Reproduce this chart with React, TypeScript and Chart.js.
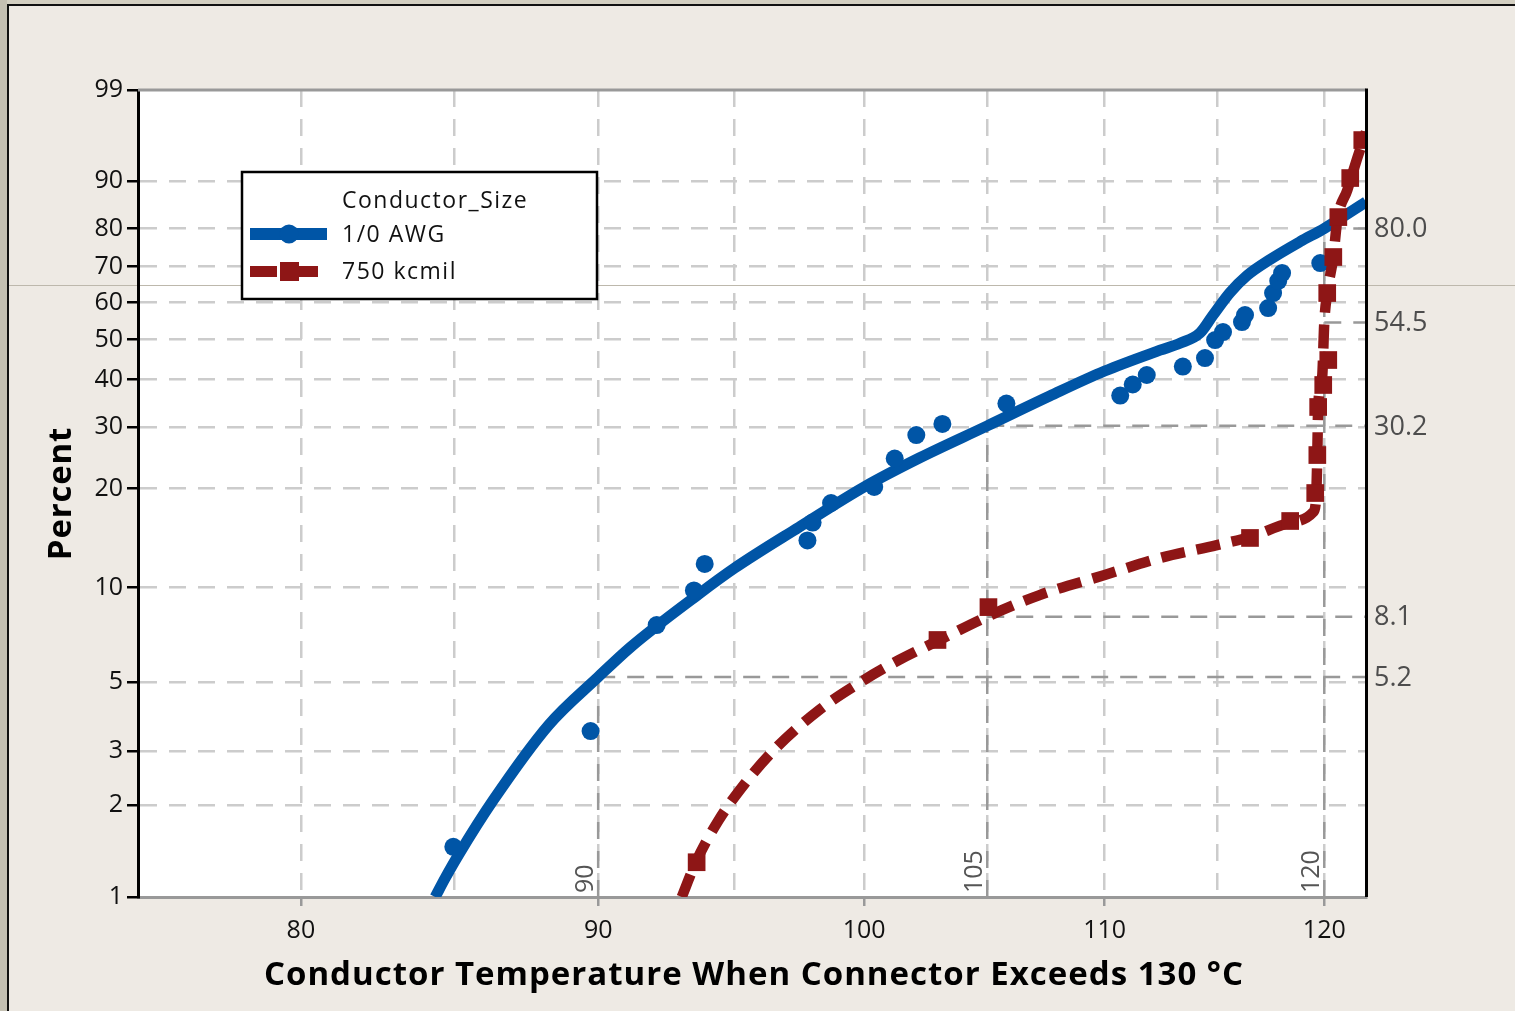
import React, { useEffect, useRef } from 'react';
import { Chart, registerables } from 'chart.js';

Chart.register(...registerables);

// ---------- data ----------
const seriesNames = ['1/0 AWG', '750 kcmil'];
const legendTitle = 'Conductor_Size';
const xTitle = 'Conductor Temperature When Connector Exceeds 130 °C';
const yTitle = 'Percent';

const xGridTemps = [80, 85, 90, 95, 100, 105, 110, 115, 120];
const xLabelTemps = [80, 90, 100, 110, 120];
const yTickPercents = [1, 2, 3, 5, 10, 20, 30, 40, 50, 60, 70, 80, 90, 99];
const xMinTemp = 75;
const xMaxTemp = 122;

// 1/0 AWG observations
const awgTemps = [84.98, 89.73, 92.11, 93.48, 93.88, 97.78, 97.98, 98.7, 100.4, 101.22, 102.09, 103.15, 105.8, 110.68, 111.23, 111.85, 113.46, 114.46, 114.92, 115.28, 116.15, 116.29, 117.36, 117.59, 117.83, 118.01, 119.81];
const awgPercents = [1.46, 3.48, 7.62, 9.79, 11.84, 13.98, 15.85, 18.14, 20.23, 24.47, 28.49, 30.56, 34.69, 36.41, 38.87, 41.08, 43.12, 45.22, 49.84, 51.96, 54.66, 56.58, 58.51, 62.68, 66.04, 68.25, 71.0];

// 1/0 AWG fitted curve
const awgFitTemps = [84.37, 84.71, 85.15, 86.34, 88.25, 90, 91.17, 93.66, 95, 97.46, 100, 102.21, 105, 107.63, 110, 112.44, 113.33, 114.23, 114.82, 115.6, 116.39, 117.46, 118.86, 120, 122];
const awgFitPercents = [1.0, 1.155, 1.372, 2.078, 3.64, 5.2, 6.49, 9.54, 11.5, 15.36, 20.23, 24.55, 30.2, 36.3, 42.03, 47.2, 49.0, 51.69, 56.5, 62.8, 67.6, 72.0, 76.7, 80.0, 86.02];

// 750 kcmil observations
const kcmilTemps = [93.58, 102.95, 105.05, 116.52, 118.39, 119.57, 119.67, 119.71, 119.95, 120.19, 120.14, 120.43, 120.67, 121.24, 121.82];
const kcmilPercents = [1.3, 6.83, 8.68, 14.23, 16.02, 19.42, 25.03, 33.96, 38.76, 44.72, 62.68, 72.63, 82.7, 90.56, 95.71];

// 750 kcmil fitted curve
const kcmilFitTemps = [93.03, 93.55, 94.41, 95.35, 96.49, 98.23, 100, 101.4, 103.03, 105, 107.2, 110, 112.43, 115, 116.52, 118.53, 119.48, 119.62, 119.67, 119.71, 119.9, 120, 120.14, 120.43, 120.62, 121.1, 121.58, 122];
const kcmilFitPercents = [1.0, 1.3, 1.79, 2.33, 3.02, 4.07, 5.09, 5.9, 6.83, 8.1, 9.47, 10.94, 12.35, 13.54, 14.33, 15.91, 17.05, 19.16, 25.37, 33.96, 40.6, 54.5, 62.68, 72.63, 82.03, 88.41, 93.59, 96.48];

// reference lines
const refTemps = [90, 105, 120];
const refAwg = [5.2, 30.2, 80.0];
const refKcmil: (number | null)[] = [null, 8.1, 54.5];

// ---------- transforms (log x, Weibull y) ----------
const tx = (t: number) => Math.log(t);
const ty = (p: number) => Math.log(-Math.log(1 - p / 100));
const pts = (ts: number[], ps: number[]) => ts.map((t, i) => ({ x: tx(t), y: ty(ps[i]) }));

const BLUE = '#0055A6';
const RED = '#8E1616';
const BEIGE = '#EEEAE4';
const FONT = '"Open Sans", "Noto Sans", sans-serif';

const decorPlugin = {
  id: 'decor',
  beforeDraw(chart: any) {
    const { ctx, chartArea: ca, width, height } = chart;
    ctx.save();
    ctx.fillStyle = BEIGE;
    ctx.fillRect(0, 0, width, height);
    ctx.fillStyle = '#D3CFC1';
    ctx.fillRect(0, 0, width, 4);
    ctx.fillStyle = '#C4C0B2';
    ctx.fillRect(0, 0, 7, height);
    ctx.fillStyle = '#111';
    ctx.fillRect(7, 4, width - 7, 2);
    ctx.fillRect(7, 4, 2, height - 4);
    ctx.fillStyle = '#FFFFFF';
    ctx.fillRect(ca.left, ca.top, ca.right - ca.left, ca.bottom - ca.top);
    ctx.fillStyle = '#BDB8AC';
    ctx.fillRect(9, 285, width - 9, 1);
    ctx.restore();
  },
  beforeDatasetsDraw(chart: any) {
    const { ctx, chartArea: ca, scales } = chart;
    const xs = scales.x;
    const ys = scales.y;
    ctx.save();
    ctx.strokeStyle = '#999999';
    ctx.lineWidth = 2.5;
    ctx.setLineDash([17, 12]);
    refTemps.forEach((t, i) => {
      const px = xs.getPixelForValue(tx(t));
      const vals = [refAwg[i], refKcmil[i]].filter((v) => v != null) as number[];
      const topVal = Math.max(...vals);
      ctx.beginPath();
      ctx.moveTo(px, ca.bottom);
      ctx.lineTo(px, ys.getPixelForValue(ty(topVal)));
      ctx.stroke();
      vals.forEach((v) => {
        const py = ys.getPixelForValue(ty(v));
        ctx.beginPath();
        ctx.moveTo(px, py);
        ctx.lineTo(ca.right, py);
        ctx.stroke();
      });
    });
    ctx.restore();
  },
  afterDatasetsDraw(chart: any) {
    const { ctx, chartArea: ca } = chart;
    ctx.save();
    ctx.fillStyle = '#999999';
    ctx.fillRect(ca.left, ca.top - 1.5, ca.right - ca.left, 3);
    ctx.fillStyle = '#000000';
    ctx.fillRect(ca.right - 1, ca.top - 1.5, 3, ca.bottom - ca.top + 1.5);
    ctx.restore();
  },
  afterDraw(chart: any) {
    const { ctx, chartArea: ca, scales } = chart;
    const xs = scales.x;
    const ys = scales.y;
    ctx.save();
    // axis titles
    ctx.fillStyle = '#000000';
    ctx.font = `bold 33px ${FONT}`;
    (ctx as any).letterSpacing = '1px';
    ctx.textAlign = 'center';
    ctx.textBaseline = 'middle';
    ctx.fillText(xTitle, 754, 976);
    (ctx as any).letterSpacing = '0.8px';
    ctx.save();
    ctx.translate(62, (ca.top + ca.bottom) / 2);
    ctx.rotate(-Math.PI / 2);
    ctx.fillText(yTitle, 0, 0);
    ctx.restore();
    (ctx as any).letterSpacing = '0px';
    // right-hand reference values
    ctx.fillStyle = '#4D4D4D';
    ctx.font = `27px ${FONT}`;
    ctx.textAlign = 'left';
    ctx.textBaseline = 'middle';
    refTemps.forEach((t, i) => {
      [refAwg[i], refKcmil[i]].forEach((v) => {
        if (v == null) return;
        ctx.fillText(v.toFixed(1), ca.right + 8, ys.getPixelForValue(ty(v)) + 1);
      });
    });
    // rotated reference temps
    ctx.fillStyle = '#555555';
    ctx.font = `25px ${FONT}`;
    refTemps.forEach((t) => {
      const px = xs.getPixelForValue(tx(t));
      ctx.save();
      ctx.translate(px - 5, ca.bottom - 4);
      ctx.rotate(-Math.PI / 2);
      ctx.textAlign = 'left';
      ctx.textBaseline = 'alphabetic';
      ctx.fillText(String(t), 0, 0);
      ctx.restore();
    });
    // legend
    const L = 241, T = 171, W = 357, H = 129;
    ctx.fillStyle = '#FFFFFF';
    ctx.fillRect(L, T, W, H);
    ctx.strokeStyle = '#000000';
    ctx.lineWidth = 2.5;
    ctx.setLineDash([]);
    ctx.strokeRect(L + 1, T + 1, W - 2, H - 2);
    ctx.fillStyle = '#111111';
    ctx.font = `23px ${FONT}`;
    (ctx as any).letterSpacing = '1.5px';
    ctx.textAlign = 'left';
    ctx.textBaseline = 'middle';
    ctx.fillText(legendTitle, 342, 201);
    ctx.fillText(seriesNames[0], 342, 235);
    ctx.fillText(seriesNames[1], 342, 272);
    (ctx as any).letterSpacing = '0px';
    // blue symbol
    ctx.fillStyle = BLUE;
    ctx.fillRect(250, 228, 77, 12);
    ctx.beginPath();
    ctx.arc(289, 234, 9.5, 0, Math.PI * 2);
    ctx.fill();
    // red symbol
    ctx.fillStyle = RED;
    ctx.fillRect(250, 266, 27, 11);
    ctx.fillRect(280, 262, 19, 19);
    ctx.fillRect(298, 266, 20, 11);
    ctx.restore();
  },
};

export default function App() {
  const ref = useRef<HTMLCanvasElement | null>(null);
  useEffect(() => {
    if (!ref.current) return;
    const chart = new Chart(ref.current, {
      type: 'scatter',
      data: {
        datasets: [
          {
            label: seriesNames[1] + ' data',
            data: pts(kcmilTemps, kcmilPercents),
            pointStyle: 'rect',
            pointRadius: 12.5,
            pointHoverRadius: 12.5,
            backgroundColor: RED,
            borderWidth: 0,
            showLine: false,
          },
          {
            label: seriesNames[1],
            data: pts(kcmilFitTemps, kcmilFitPercents),
            showLine: true,
            pointRadius: 0,
            borderColor: RED,
            borderWidth: 10.5,
            borderDash: [24, 12],
            cubicInterpolationMode: 'monotone',
          },
          {
            label: seriesNames[0] + ' data',
            data: pts(awgTemps, awgPercents),
            pointStyle: 'circle',
            pointRadius: 9,
            pointHoverRadius: 9,
            backgroundColor: BLUE,
            borderWidth: 0,
            showLine: false,
          },
          {
            label: seriesNames[0],
            data: pts(awgFitTemps, awgFitPercents),
            showLine: true,
            pointRadius: 0,
            borderColor: BLUE,
            borderWidth: 11,
            borderJoinStyle: 'round',
            cubicInterpolationMode: 'monotone',
          },
        ],
      },
      options: {
        animation: false,
        responsive: false,
        devicePixelRatio: 1,
        layout: { padding: { top: 90, right: 149, left: 0, bottom: 0 } },
        plugins: { legend: { display: false }, tooltip: { enabled: false } },
        scales: {
          x: {
            type: 'linear',
            min: tx(xMinTemp),
            max: tx(xMaxTemp),
            afterFit: (s: any) => { s.height = 114; },
            afterBuildTicks: (s: any) => { s.ticks = xGridTemps.map((t) => ({ value: tx(t) })); },
            ticks: {
              autoSkip: false,
              maxRotation: 0,
              padding: 10,
              color: '#111111',
              font: { family: FONT, size: 25 },
              callback: (_v: any, i: number) => (xLabelTemps.includes(xGridTemps[i]) ? String(xGridTemps[i]) : ''),
            },
            grid: {
              color: '#CCCCCC',
              lineWidth: 2.5,
              tickLength: 9,
              tickWidth: 2.5,
              tickColor: (c: any) => (xLabelTemps.includes(xGridTemps[c.index]) ? '#999999' : 'rgba(0,0,0,0)'),
            },
            border: { color: '#999999', width: 3, dash: [17, 12] },
            title: { display: false },
          },
          y: {
            type: 'linear',
            min: ty(1),
            max: ty(99),
            afterFit: (s: any) => { s.width = 138; },
            afterBuildTicks: (s: any) => { s.ticks = yTickPercents.map((p) => ({ value: ty(p) })); },
            ticks: {
              autoSkip: false,
              padding: 4,
              color: '#111111',
              font: { family: FONT, size: 25 },
              callback: (_v: any, i: number) => String(yTickPercents[i]),
            },
            grid: {
              color: (c: any) => (c.index === 0 || c.index === yTickPercents.length - 1 ? 'rgba(0,0,0,0)' : '#CCCCCC'),
              lineWidth: 2.5,
              tickLength: 11,
              tickWidth: 2.5,
              tickColor: '#000000',
            },
            border: { color: '#000000', width: 3, dash: [17, 12] },
            title: { display: false },
          },
        },
      },
      plugins: [decorPlugin],
    } as any);
    return () => chart.destroy();
  }, []);
  return (
    <div style={{ position: 'fixed', left: 0, top: 0, width: 1515, height: 1011, background: BEIGE }}>
      <canvas ref={ref} width={1515} height={1011} style={{ width: 1515, height: 1011, display: 'block' }} />
    </div>
  );
}
